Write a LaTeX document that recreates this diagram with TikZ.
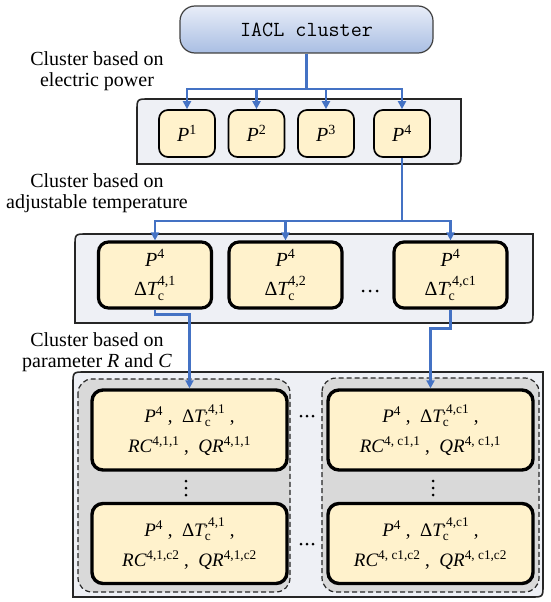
\documentclass[tikz,border=0pt]{standalone}
\usepackage{fontspec}
\usepackage{amsmath}
\setmainfont{Liberation Serif}
\usetikzlibrary{arrows.meta}
\definecolor{linkblue}{HTML}{4472C4}
\definecolor{boxfill}{HTML}{FFF2CC}
\definecolor{panelfill}{HTML}{EEF0F5}
\definecolor{groupfill}{HTML}{D9D9D9}
\definecolor{iacltop}{HTML}{E8EDF8}
\definecolor{iaclbot}{HTML}{A9BEE3}
\newcommand{\myt}[1]{\text{#1}}
\newcommand{\myhi}[1]{\text{\raisebox{2.5pt}{#1}}}
\begin{document}
\begin{tikzpicture}[x=1pt,y=-1pt,
  panel/.style={draw=black!85, line width=1.6pt, fill=panelfill},
  group/.style={draw=black!85, dash pattern=on 5pt off 3pt, line width=1.2pt, fill=groupfill, rounded corners=14pt},
  pbox/.style={draw=black, line width=1.7pt, fill=boxfill, rounded corners=9pt, minimum width=56pt, minimum height=47pt, inner sep=0pt, font=\fontsize{20}{22}\selectfont},
  tbox/.style={draw=black, line width=3.2pt, fill=boxfill, rounded corners=10pt, minimum width=113pt, minimum height=66pt, inner sep=0pt, align=center, font=\fontsize{20}{29}\selectfont},
  cbox/.style={draw=black, line width=3.4pt, fill=boxfill, rounded corners=11pt, minimum height=80pt, inner sep=0pt, align=center, font=\fontsize{19}{30}\selectfont},
  link/.style={draw=linkblue, line width=2.4pt},
  arr/.style={-{Triangle[length=8pt,width=8pt]}},
  lbl/.style={align=center, font=\fontsize{20}{21.5}\selectfont},
  dot/.style={fill=black}
]
\useasboundingbox (0,0) rectangle (550,602);

% panels (top-left and bottom-right corners rounded)
\path[panel] (137,164) -- (137,111) .. controls (137,99) .. (149,99) -- (461,99) -- (461,152) .. controls (461,164) .. (449,164) -- cycle;
\path[panel] (75,323) -- (75,246) .. controls (75,234) .. (87,234) -- (533,234) -- (533,311) .. controls (533,323) .. (521,323) -- cycle;
\path[panel] (73,597) -- (73,384) .. controls (73,372) .. (85,372) -- (543,372) -- (543,585) .. controls (543,597) .. (531,597) -- cycle;

% dashed groups
\path[group] (78,379) rectangle (290,592);
\path[group] (322,378) rectangle (539,592);

% labels
\node[lbl] (lab1) at (97,71) {Cluster based on\\electric power};
\node[lbl] (lab2) at (97,193) {Cluster based on\\adjustable temperature};
\node[lbl] (lab3) at (97,352) {Cluster based on\\parameter \textit{R} and \textit{C}};

% top node
\node[draw=black!75, line width=1.2pt, rounded corners=15pt, top color=iacltop, bottom color=iaclbot,
      minimum width=253pt, minimum height=47pt, inner sep=0pt,
      font=\ttfamily\fontsize{21.5}{22}\selectfont, text=black] (iacl) at (306.5,29.5) {IACL cluster};

% level 1
\node[pbox] (p1) at (187,133.5) {$\textit{P}^{\myt{1}}$};
\node[pbox] (p2) at (256.5,133.5) {$\textit{P}^{\myt{2}}$};
\node[pbox] (p3) at (326,133.5) {$\textit{P}^{\myt{3}}$};
\node[pbox] (p4) at (402,133.5) {$\textit{P}^{\myt{4}}$};

% level 2
\node[tbox] (b1) at (155,275) {$\textit{P}^{\myt{4}}$\\$\myt{Δ}\textit{T}_{\myt{c}}^{\myhi{4,1}}$};
\node[tbox] (b2) at (285.5,275) {$\textit{P}^{\myt{4}}$\\$\myt{Δ}\textit{T}_{\myt{c}}^{\myhi{4,2}}$};
\node[tbox] (b3) at (450.5,275) {$\textit{P}^{\myt{4}}$\\$\myt{Δ}\textit{T}_{\myt{c}}^{\myhi{,4,c1}}$};
\foreach \x in {363,370,377} \fill[dot] (\x,291) circle (1.5pt);

% level 3
\node[cbox, minimum width=195pt] (c11) at (189.5,430) {$\textit{P}^{\myt{4}}$\ ,\ \ $\myt{Δ}\textit{T}_{\myt{c}}^{\myhi{,4,1}}$\ ,\\$\textit{RC}^{\myt{4,1,1}}$\ ,\ \ $\textit{QR}^{\myt{4,1,1}}$};
\node[cbox, minimum width=195pt] (c12) at (189.5,543.5) {$\textit{P}^{\myt{4}}$\ ,\ \ $\myt{Δ}\textit{T}_{\myt{c}}^{\myhi{,4,1}}$\ ,\\$\textit{RC}^{\myt{4,1,c2}}$\ ,\ \ $\textit{QR}^{\myt{4,1,c2}}$};
\node[cbox, minimum width=205pt] (c21) at (430.5,430) {$\textit{P}^{\myt{4}}$\ ,\ \ $\myt{Δ}\textit{T}_{\myt{c}}^{\myhi{,4,c1}}$\ ,\\$\textit{RC}^{\myt{4, c1,1}}$\ ,\ \ $\textit{QR}^{\myt{4, c1,1}}$};
\node[cbox, minimum width=205pt] (c22) at (430.5,543.5) {$\textit{P}^{\myt{4}}$\ ,\ \ $\myt{Δ}\textit{T}_{\myt{c}}^{\myhi{,4,c1}}$\ ,\\$\textit{RC}^{\myt{4, c1,c2}}$\ ,\ \ $\textit{QR}^{\myt{4, c1,c2}}$};
\foreach \y in {481,488,495} {\fill[dot] (186,\y) circle (1.5pt); \fill[dot] (433,\y) circle (1.5pt);}
\foreach \x in {301,307,313} {\fill[dot] (\x,416) circle (1.5pt); \fill[dot] (\x,544) circle (1.5pt);}

% connectors
\coordinate (bus1) at (306.5,89);
\draw[link] (iacl.south) -- (bus1);
\foreach \n in {p1,p2,p3,p4} \draw[link,arr] (bus1) -| (\n.north);
\coordinate (bus2) at (402,221);
\draw[link] (p4.south) -- (bus2);
\foreach \n in {b1,b2,b3} \draw[link,arr] (bus2) -| (\n.north);
\draw[link,arr] (b1.south) -- ++(0,5) -| (c11.north);
\draw[link,arr] (b3.south) -- ++(0,19) -| (c21.north);
\end{tikzpicture}
\end{document}
